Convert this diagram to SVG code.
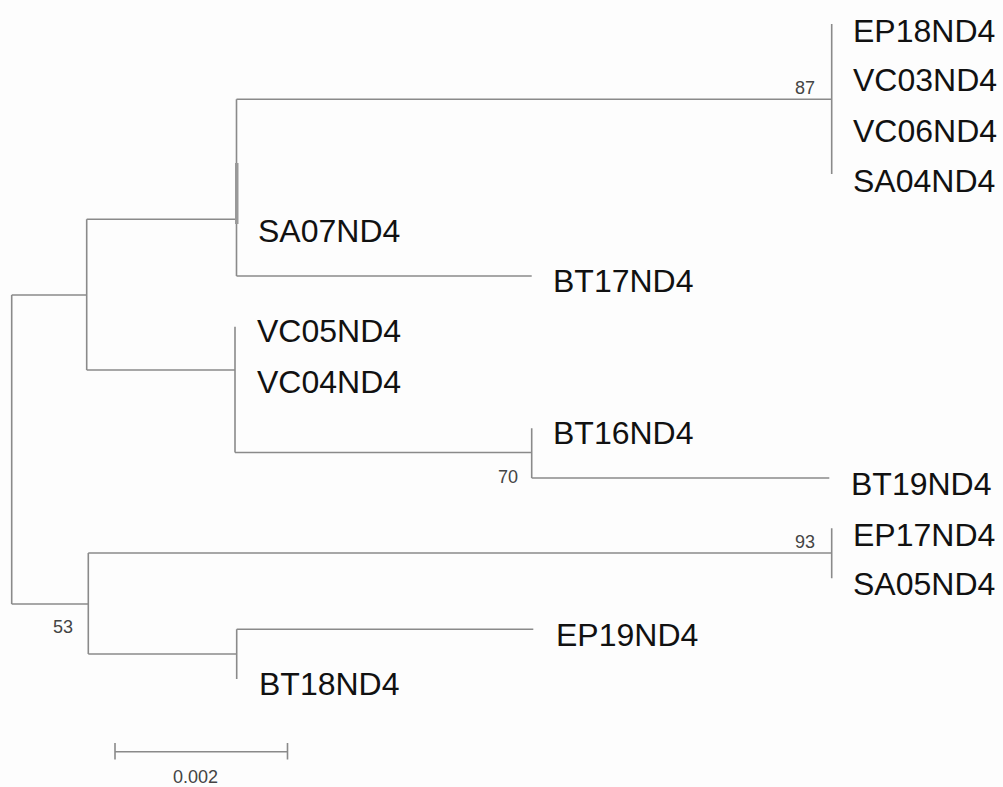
<svg xmlns="http://www.w3.org/2000/svg" width="1003" height="787" viewBox="0 0 1003 787">
<style>
.br{fill:none;stroke:#8a8a8a;stroke-width:1.6}
.lab{font-family:"Liberation Sans",Arial,sans-serif;font-size:32px;fill:#111}
.bs{font-family:"Liberation Sans",Arial,sans-serif;font-size:18px;fill:#444}
</style>
<rect width="1003" height="787" fill="#fdfdfd"/>
<g id="connectors">
<path class="br" d="M11.7,295 V604"/>
<path class="br" d="M11.7,295 H86.7 M86.7,219.3 V370"/>
<path class="br" d="M86.7,219.3 H236.5 M236.5,99.3 V276"/>
<path class="br" d="M236.5,99.3 H831.7 M831.7,24 V174"/>
<rect x="235" y="163" width="3.5" height="61" fill="#999"/>
<path class="br" d="M236.5,276 H531.7"/>
<path class="br" d="M86.7,370 H235 M235,326.7 V452.5"/>
<path class="br" d="M235,452.5 H531.7 M531.7,428.3 V478"/>
<path class="br" d="M531.7,478 H829.3"/>
<path class="br" d="M11.7,604 H88.3 M88.3,553 V654"/>
<path class="br" d="M88.3,553 H831.7 M831.7,528.3 V578.3"/>
<path class="br" d="M88.3,654 H236.7 M236.7,629.3 V679"/>
<path class="br" d="M236.7,629.3 H533.3"/>
</g>
<g id="leaves">
<text id="EP18ND4" class="lab" x="853" y="41.7">EP18ND4</text>
<text id="VC03ND4" class="lab" x="853" y="90.7">VC03ND4</text>
<text id="VC06ND4" class="lab" x="853" y="141.7">VC06ND4</text>
<text id="SA04ND4" class="lab" x="853" y="192">SA04ND4</text>
<text id="SA07ND4" class="lab" x="258" y="241.7">SA07ND4</text>
<text id="BT17ND4" class="lab" x="553" y="292">BT17ND4</text>
<text id="VC05ND4" class="lab" x="257" y="342">VC05ND4</text>
<text id="VC04ND4" class="lab" x="257" y="393">VC04ND4</text>
<text id="BT16ND4" class="lab" x="553" y="444">BT16ND4</text>
<text id="BT19ND4" class="lab" x="851" y="495">BT19ND4</text>
<text id="EP17ND4" class="lab" x="853" y="545.7">EP17ND4</text>
<text id="SA05ND4" class="lab" x="853" y="595">SA05ND4</text>
<text id="EP19ND4" class="lab" x="556" y="646">EP19ND4</text>
<text id="BT18ND4" class="lab" x="259" y="695">BT18ND4</text>
</g>
<g id="bootstrap">
<text class="bs" x="795" y="94">87</text>
<text class="bs" x="498" y="483">70</text>
<text class="bs" x="795" y="548">93</text>
<text class="bs" x="53" y="633">53</text>
</g>
<g id="scalebar">
<path class="br" d="M115,751.7 H287.5 M115,743 V759.5 M287.5,743 V759.5"/>
<text class="bs" x="173" y="783">0.002</text>
</g>
</svg>
